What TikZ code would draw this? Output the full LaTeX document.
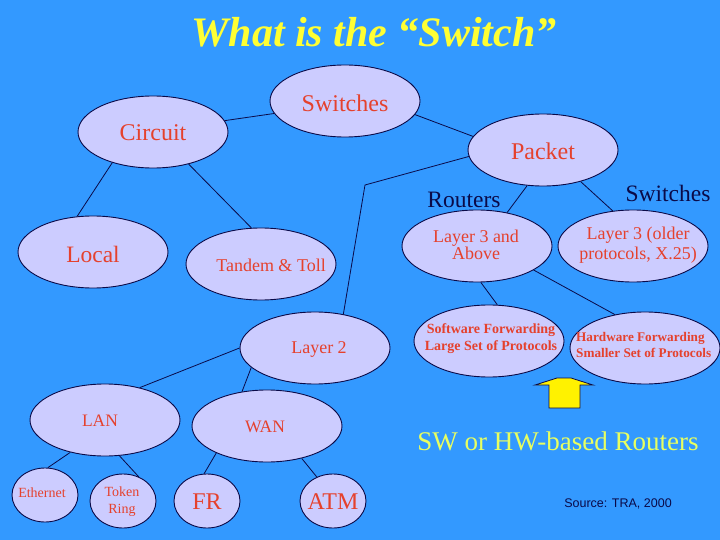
\documentclass[tikz,border=0pt]{standalone}
\usepackage{fontspec}
\setmainfont{Liberation Serif}
\newfontfamily\seriffont{Liberation Serif}
\newfontfamily\arialfont{Liberation Sans}
\usetikzlibrary{shapes.geometric}
\definecolor{bgblue}{HTML}{3399FF}
\definecolor{ellfill}{HTML}{CCCCFF}
\definecolor{txtred}{HTML}{E5412D}
\definecolor{navy}{HTML}{0A0A48}
\definecolor{ttlyellow}{HTML}{FFFF33}
\definecolor{swyellow}{HTML}{E8FF60}
\newcommand{\fsz}[2]{\seriffont\fontsize{#1}{#2}\selectfont}
\tikzset{
  ell/.style={ellipse, draw=navy, line width=0.9pt, fill=ellfill, inner sep=0pt,
    minimum width=150pt, minimum height=72pt},
  sell/.style={ell, minimum width=66pt, minimum height=54pt},
  lbl/.style={text=txtred, inner sep=0pt, align=center},
  navylbl/.style={text=navy, inner sep=0pt},
  conn/.style={draw=navy, line width=0.8pt},
}
\begin{document}
\begin{tikzpicture}[x=1pt,y=-1pt]
\useasboundingbox (0,0) rectangle (720,540);
\fill[bgblue] (0,0) rectangle (720,540);
\clip (0,0) rectangle (720,540);
% title
\node[text=ttlyellow, inner sep=0pt, font=\fsz{42}{46}\bfseries\itshape] (title) at (374,32) {What is the “Switch”};
% ellipses
\node[ell] (sw) at (345,101) {};
\node[ell] (circ) at (153,132) {};
\node[ell] (pack) at (543,150) {};
\node[ell] (local) at (93,252) {};
\node[ell] (tand) at (261,264) {};
\node[ell] (l2) at (315,348) {};
\node[ell] (lan) at (105,420) {};
\node[ell] (wan) at (267,426) {};
\node[sell] (eth) at (45,495) {};
\node[sell] (tok) at (123,501) {};
\node[sell] (fr) at (207,501) {};
\node[sell] (atm) at (333,501) {};
\node[ell] (l3a) at (477,246) {};
\node[ell] (l3o) at (633,246) {};
\node[ell] (swf) at (489,341) {};
\node[ell] (hwf) at (645,348) {};
% connectors
\coordinate (corner) at (365,185);
\draw[conn] (circ.9.1) -- (sw.190.5);
\draw[conn] (sw.349) -- (pack.169.5);
\draw[conn] (pack.185) -- (corner) -- (l2.50.7);
\draw[conn] (pack.246) -- (l3a.48);
\draw[conn] (pack.320.5) -- (l3o.120);
\draw[conn] (circ.217.8) -- (local.114.6);
\draw[conn] (circ.318.5) -- (tand.105.5);
\draw[conn] (l2.180) -- (lan.43.3);
\draw[conn] (l2.197) -- (wan.126.9);
\draw[conn] (lan.223) -- (eth.84);
\draw[conn] (lan.292.6) -- (tok.57.5);
\draw[conn] (wan.208) -- (fr.96);
\draw[conn] (wan.317.6) -- (atm.124.8);
\draw[conn] (l3a.276) -- (swf.77);
\draw[conn] (l3a.337.7) -- (hwf.132);
% texts
\node[lbl, font=\fsz{24}{26}] (tsw) at (345,103) {Switches};
\node[lbl, font=\fsz{24}{26}] (tcirc) at (153,133) {Circuit};
\node[lbl, font=\fsz{24}{26}] (tpack) at (543,151) {Packet};
\node[lbl, font=\fsz{23.5}{26}] (tlocal) at (93,254) {Local};
\node[lbl, font=\fsz{18}{20}] (ttand) at (271,265) {Tandem \& Toll};
\node[lbl, font=\fsz{18}{20}] (tl2) at (319,349) {Layer 2};
\node[lbl, font=\fsz{17.5}{20}] (tlan) at (100,421) {LAN};
\node[lbl, font=\fsz{17.5}{20}] (twan) at (265,427) {WAN};
\node[lbl, font=\fsz{14}{17}] (teth) at (42,493) {Ethernet};
\node[lbl, font=\fsz{14}{17}] (ttok) at (122,502) {Token\\Ring};
\node[lbl, font=\fsz{24}{26}] (tfr) at (207,502) {FR};
\node[lbl, font=\fsz{24}{26}] (tatm) at (333,502) {ATM};
\node[lbl, font=\fsz{18}{17}] (tl3a) at (476,245) {Layer 3 and\\Above};
\node[lbl, font=\fsz{18}{20}] (tl3o) at (638,245) {Layer 3 (older\\protocols, X.25)};
\node[lbl, font=\fsz{14}{17}\bfseries] (tswf) at (491,339) {Software Forwarding\\Large Set of Protocols};
\node[lbl, anchor=west, align=left, font=\fsz{13.2}{16.5}\bfseries] (thwf) at (576,345) {Hardware Forwarding\\Smaller Set of Protocols};
\node[navylbl, font=\fsz{23.5}{26}] (trout) at (464,200) {Routers};
\node[navylbl, font=\fsz{23.5}{26}] (tsw2) at (668,193) {Switches};
% arrow
\draw[fill=yellow, draw=navy, line width=0.8pt]
  (549,408) -- (549,385) -- (535,385) -- (557,378) -- (571,378) -- (593,385)
  -- (580,385) -- (580,408) -- cycle;
\node[text=swyellow, inner sep=0pt, font=\fsz{27}{30}] (swhw) at (558,441) {SW or HW-based Routers};
\node[navylbl, font=\arialfont\fontsize{12.5}{14}\selectfont] (src) at (618,504) {Source: TRA, 2000};
\end{tikzpicture}
\end{document}
